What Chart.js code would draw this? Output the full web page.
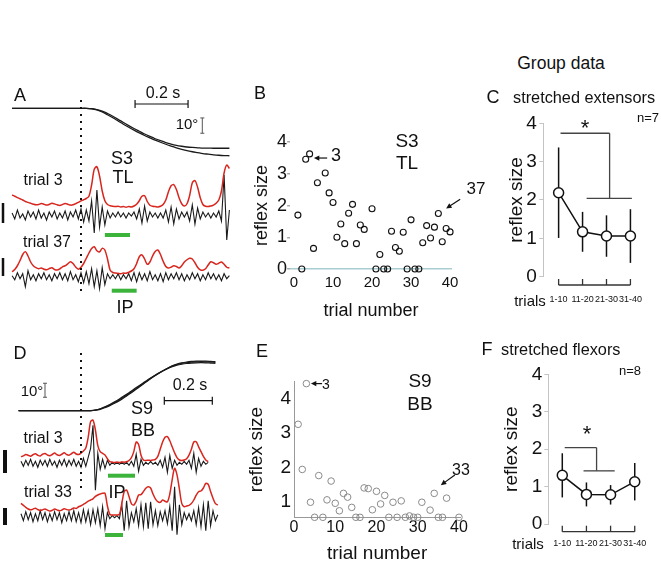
<!DOCTYPE html>
<html>
<head>
<meta charset="utf-8">
<script src="https://cdn.jsdelivr.net/npm/chart.js@4.4.1/dist/chart.umd.min.js"></script>
<style>
  body { margin: 0; background: #fff; }
  #fig { position: relative; width: 661px; height: 563px; overflow: hidden; font-family: "Liberation Sans", Arial, sans-serif; color: #111; }
  #fig canvas { position: absolute; }
  .t { position: absolute; transform: translate(-50%, -50%); white-space: nowrap; line-height: 1; }
  .t.l { transform: translate(0, -50%); }
</style>
</head>
<body>
<div id="fig"></div>
<script>
// ---------- data ----------
// B: single subject S3 (TL), reflex size per trial
const trialsB = [1,2,3,4,5,6,8,9,10,11,12,13,14,15,16,17,18,20,21,22,23,24,25,26,27,28,29,30,31,32,33,34,35,36,37,38,39,40];
const reflexB = [1.7,0,3.46,3.63,0.65,2.72,3.03,2.4,2.1,1.0,1.42,0.8,1.76,2.04,0.8,1.39,1.25,1.9,0,0.46,0,0,1.19,0.68,0.56,1.16,0,1.55,0,0,0.83,1.37,0.98,1.32,1.75,0.86,1.28,1.17];

// E: single subject S9 (BB)
const trialsE = [1,2,3,4,5,6,7,8,9,10,11,12,13,14,15,16,17,18,19,20,21,22,23,24,25,26,27,28,29,30,31,33,34,35,36,37,40];
const reflexE = [3.26,1.94,4.45,0.98,0,1.76,0,1.05,1.6,0.95,0.73,1.24,1.13,0.83,0,0,1.4,1.38,0.76,1.3,0.93,1.18,0,0.98,0,1.02,0,0.58,0,0,0.98,0.75,1.24,0,0,1.1,0];

// C / F: group data, mean and SD per block of trials
const groups = ['1-10', '11-20', '21-30', '31-40'];
const meanC = [2.19, 1.17, 1.06, 1.06];
const sdC = [1.18, 0.52, 0.54, 0.70];
const meanF = [1.30, 0.79, 0.78, 1.13];
const sdF = [0.59, 0.32, 0.26, 0.50];

// A: joint angle (deg) sampled every 20 ms from -0.26 s
const angA1 = [0,0,0,0,0,0,0,0,0,0,0,0,0,0,0,-0.2,-0.8,-1.8,-3.4,-5.2,-7.2,-9.3,-11.3,-13.2,-15.0,-16.8,-18.4,-19.9,-21.2,-22.4,-23.4,-24.2,-24.8,-25.3,-25.6,-25.8,-26.0,-26.0,-26.1,-26.1,-26.1,-26.1];
const angA2 = [0,0,0,0,0,0,0,0,0,0,0,0,0,0,0,-0.3,-1.1,-2.4,-4.2,-6.2,-8.3,-10.4,-12.4,-14.3,-16.1,-17.8,-19.3,-20.8,-22.2,-23.5,-24.7,-25.8,-26.8,-27.7,-28.4,-29.0,-29.6,-30.0,-30.4,-30.7,-30.9,-31.0];
// A: EMG, sampled every 10 ms from -0.26 s (red = envelope, black = raw)
const redA3 = [11.3,10.5,9.6,8.8,8.0,7.0,6.4,5.8,5.2,4.8,5.0,5.6,5.2,4.6,5.0,5.8,5.4,4.8,4.4,5.0,5.6,5.2,4.6,4.8,5.6,6.4,7.4,8.2,9.0,10.5,18.0,28.5,30.2,24.0,14.0,7.5,5.0,4.2,3.8,3.6,3.8,3.4,3.6,3.2,3.6,3.4,4.0,5.2,7.5,10.5,10.8,7.0,4.5,3.8,3.6,3.4,3.8,5.0,8.0,13.5,17.5,18.2,15.0,9.5,5.5,4.0,5.5,11.0,19.5,21.0,16.5,9.5,5.0,3.8,3.6,4.0,4.6,5.8,8.0,14.0,26.0,31.3,29.0];
const rawA3 = [2,-4,5,-3,1,-5,4,-2,3,-4,5,-3,2,-5,3,-2,4,-4,2,-3,4,-5,3,-2,5,-4,6,-7,5,-6,14,-18,25,-12,8,-10,4,-3,2,-2,3,-2,2,-3,2,-1,3,-4,6,-8,9,-6,3,-2,2,-3,2,-3,5,-7,8,-9,6,-4,3,-2,3,-6,10,-9,7,-4,3,-2,2,-3,2,-2,4,-6,40,-25,5];
const redA37 = [5.5,7.0,9.5,13.0,17.0,18.9,16.0,12.0,9.5,8.2,7.5,8.0,7.2,6.8,7.6,8.2,7.0,6.6,7.4,8.8,9.5,10.8,12.2,11.0,8.6,7.2,8.5,11.0,14.5,18.0,21.0,22.2,19.5,18.8,21.1,20.0,14.0,6.5,5.0,4.6,4.4,4.2,4.6,4.5,5.2,6.0,7.5,11.0,15.5,16.7,14.0,10.5,12.0,16.0,19.0,20.0,17.0,12.5,9.0,8.0,8.6,9.5,9.0,8.0,9.5,12.0,13.5,14.5,14.0,11.5,8.5,6.8,6.5,7.5,10.0,12.2,11.5,10.5,11.2,12.0,10.5,8.5,8.0];
const rawA37 = [1,-3,4,-2,3,-10,6,-3,2,-4,3,-2,4,-3,2,-4,3,-2,4,-3,3,-4,5,-3,2,-5,4,-6,5,-7,8,-10,6,-12,9,-8,3,-2,2,-2,3,-3,2,-2,3,-4,4,-5,4,-3,3,-4,5,-3,2,-4,3,-5,4,-3,3,-2,4,-3,3,-4,2,-3,4,-2,3,-4,2,-3,4,-2,3,-3,2,-4,3,-2,1];

// D: joint angle (deg), three superimposed trials, every 20 ms from -0.26 s
const angD1 = [0,0,0,0,0,0,0,0,0,0,0,0,0,0,0,0,0.4,1.2,2.5,4.0,5.8,7.8,10.0,12.3,14.7,17.1,19.5,21.9,24.2,26.4,28.4,30.2,31.8,33.0,33.8,34.3,34.7,34.9,35.0,34.9,34.7,34.5];
const angD2 = [0,0,0,0,0,0,0,0,0,0,0,0,0,0,0,0,0.3,1.0,2.2,3.6,5.3,7.2,9.4,11.7,14.1,16.6,19.1,21.6,24.0,26.3,28.4,30.3,32.0,33.3,34.2,34.8,35.2,35.4,35.5,35.4,35.2,35.0];
const angD3 = [0,0,0,0,0,0,0,0,0,0,0,0,0,0,0,0,0.5,1.4,2.8,4.4,6.3,8.4,10.6,12.9,15.3,17.6,19.9,22.2,24.4,26.5,28.4,30.0,31.4,32.5,33.2,33.7,34.0,34.2,34.3,34.2,34.0,33.8];
// D: EMG, every 10 ms from -0.25 s
const redD3 = [7.8,8.4,9.6,9.0,8.2,9.4,10.2,9.0,8.4,9.8,10.5,9.2,8.6,9.6,10.8,9.4,8.8,9.8,11.0,9.6,9.0,10.2,11.5,10.0,9.6,10.8,12.5,15.0,24.0,37.0,38.3,30.0,17.0,11.9,10.5,9.2,6.0,3.6,3.2,3.0,3.2,3.0,3.4,3.2,3.6,4.6,7.0,12.0,20.0,18.0,9.0,5.0,4.6,4.8,4.6,5.0,5.6,8.0,14.0,20.0,24.0,24.4,21.0,16.0,11.0,7.0,5.0,4.6,5.0,6.0,9.0,14.0,20.0,20.2,16.0,12.0,8.0,5.0,3.6];
const rawD3 = [2,-3,3,-2,4,-3,2,-4,3,-2,3,-3,4,-2,2,-4,3,-2,4,-3,3,-2,4,-3,2,-4,5,-3,6,15,38,-27,10,-6,4,-5,3,-2,1,-1,1,-1,1,-1,1,-2,2,-3,9,-8,4,-2,1,-1,2,-1,1,-2,3,-4,6,-9,8,-5,3,-2,1,-1,2,-1,3,-5,10,-9,5,-3,2,-1,1];
const redD33 = [12.2,10.5,8.8,7.5,6.8,7.4,8.2,7.0,6.2,6.8,7.6,6.6,5.8,6.4,7.4,6.8,6.0,6.6,7.8,7.0,6.6,7.2,8.4,8.0,9.4,10.2,11.4,12.6,14.0,15.0,16.0,18.0,19.2,20.0,20.6,20.6,10.0,3.0,2.5,2.6,2.5,3.0,12.0,22.0,23.3,18.0,12.0,10.8,14.0,19.2,19.5,22.0,24.8,26.0,25.0,20.0,16.0,13.6,13.0,15.0,14.0,13.5,20.0,32.0,41.4,36.0,24.0,12.0,9.4,10.0,10.5,12.0,15.0,19.0,21.9,22.5,25.0,28.9,28.0,22.0,16.4,12.0,10.8];
const rawD33 = [3,-4,5,-3,4,-5,3,-4,6,-3,4,-5,3,-4,5,-3,4,-6,3,-4,5,-4,6,-5,4,-6,7,-5,6,-8,7,-6,8,-9,10,-12,4,-2,1,-1,1,-2,12,-14,16,-10,4,-5,8,-9,12,-10,14,-12,15,-8,6,-9,5,-4,6,-7,10,-14,30,-18,12,-8,4,-3,3,-4,6,-8,9,-10,12,-14,16,-9,6,-4,2];

// ---------- helpers ----------
Chart.defaults.font.family = '"Liberation Sans", Arial, sans-serif';
Chart.defaults.color = '#111';
const fig = document.getElementById('fig');
const base = { responsive: false, animation: false, events: [], plugins: { legend: { display: false }, tooltip: { enabled: false } } };

function makeCanvas(l, t, w, h) {
  const c = document.createElement('canvas');
  c.width = w; c.height = h;
  Object.assign(c.style, { left: l + 'px', top: t + 'px', width: w + 'px', height: h + 'px' });
  fig.appendChild(c);
  return c;
}
function seg(ctx, x1, y1, x2, y2) { ctx.beginPath(); ctx.moveTo(x1, y1); ctx.lineTo(x2, y2); ctx.stroke(); }

// ---------- A and D: stretch traces ----------
function traceDecor(p) {
  return {
    id: 'traceDecor',
    afterDatasetsDraw(chart) {
      const { ctx, scales } = chart, x = scales.x, oy = p.top;
      ctx.save();
      ctx.strokeStyle = '#111';
      ctx.lineWidth = 2; ctx.setLineDash([2, 5]);
      const xo = x.getPixelForValue(0);
      seg(ctx, xo, p.onset[0] - oy, xo, p.onset[1] - oy);
      ctx.setLineDash([]);
      // 0.2 s bar
      ctx.lineWidth = 1.2;
      const b = p.timeBar, x1 = x.getPixelForValue(b[0]), x2 = x.getPixelForValue(b[1]), yb = b[2] - oy;
      seg(ctx, x1, yb, x2, yb); seg(ctx, x1, yb - 4, x1, yb + 4); seg(ctx, x2, yb - 4, x2, yb + 4);
      // 10 deg bar
      const d = p.degBar, ya = scales.y0, d1 = ya.getPixelForValue(d[1]), d2 = ya.getPixelForValue(d[2]);
      ctx.strokeStyle = '#555'; ctx.lineWidth = 1;
      seg(ctx, d[0], d1, d[0], d2); seg(ctx, d[0] - 2, d1, d[0] + 2, d1); seg(ctx, d[0] - 2, d2, d[0] + 2, d2);
      // EMG calibration bars
      ctx.strokeStyle = '#111'; ctx.lineWidth = p.emgBarW;
      p.emgBars.forEach(e => {
        const s = scales['y' + e[0]];
        seg(ctx, e[1], s.getPixelForValue(e[2]), e[1], s.getPixelForValue(e[3]));
      });
      // IP windows
      ctx.strokeStyle = '#3cb43c'; ctx.lineWidth = 4;
      p.ip.forEach(g => seg(ctx, x.getPixelForValue(g[0]), g[2] - oy, x.getPixelForValue(g[1]), g[2] - oy));
      ctx.restore();
    }
  };
}

function traceChart(p) {
  const c = makeCanvas(p.left, p.top, p.w, p.h);
  const scales = { x: { type: 'linear', display: false, min: p.xmin, max: p.xmax } };
  const datasets = p.traces.map((tr, i) => {
    const id = 'y' + i, z = tr.zero - p.top;
    scales[id] = { type: 'linear', display: false, min: -(p.h - z) / tr.k, max: z / tr.k };
    return {
      data: tr.vals.map((v, j) => ({ x: tr.t0 + j * tr.dt, y: v })),
      yAxisID: id, borderColor: tr.color, borderWidth: tr.width,
      pointRadius: 0, tension: tr.tension || 0, fill: false, order: tr.order || 0
    };
  });
  new Chart(c, {
    type: 'line',
    data: { datasets },
    options: { ...base, layout: { padding: { left: p.padL, right: p.padR, top: 0, bottom: 0 } }, scales },
    plugins: [traceDecor(p)]
  });
}

const RED = '#d7261e', BLK = '#1a1a1a';
traceChart({
  left: 0, top: 88, w: 240, h: 230, padL: 10, padR: 7, xmin: (10 - 81) / 265, xmax: (233 - 81) / 265,
  traces: [
    { vals: angA1, t0: -0.26, dt: 0.02, zero: 108.3, k: 1.53, color: BLK, width: 1.3, tension: 0.3 },
    { vals: angA2, t0: -0.26, dt: 0.02, zero: 108.3, k: 1.53, color: BLK, width: 1.3, tension: 0.3 },
    { vals: redA3, t0: -0.26, dt: 0.01, zero: 212, k: 1.5, color: RED, width: 1.5, tension: 0.3 },
    { vals: rawA3, t0: -0.26, dt: 0.01, zero: 215, k: 1, color: BLK, width: 1.1, order: 1 },
    { vals: redA37, t0: -0.26, dt: 0.01, zero: 280, k: 1.5, color: RED, width: 1.5, tension: 0.3 },
    { vals: rawA37, t0: -0.26, dt: 0.01, zero: 276.7, k: 1, color: BLK, width: 1.1, order: 1 }
  ],
  onset: [100, 292],
  timeBar: [0.204, 0.404, 104],
  degBar: [202.3, -6.3, -16.3],
  emgBarW: 2.5, emgBars: [[3, 3, 12, -8], [5, 3, 18.7, 0.7]],
  ip: [[0.09, 0.185, 235], [0.116, 0.21, 290.7]]
});

traceChart({
  left: 0, top: 340, w: 240, h: 223, padL: 18, padR: 20, xmin: (18 - 81) / 240, xmax: (220 - 81) / 240,
  traces: [
    { vals: angD1, t0: -0.26, dt: 0.02, zero: 410.7, k: 1.4, color: BLK, width: 1.2, tension: 0.3 },
    { vals: angD2, t0: -0.26, dt: 0.02, zero: 410.7, k: 1.4, color: BLK, width: 1.2, tension: 0.3 },
    { vals: angD3, t0: -0.26, dt: 0.02, zero: 410.7, k: 1.4, color: BLK, width: 1.2, tension: 0.3 },
    { vals: redD3, t0: -0.25, dt: 0.01, zero: 466, k: 1.2, color: RED, width: 1.5, tension: 0.3 },
    { vals: rawD3, t0: -0.25, dt: 0.01, zero: 463.3, k: 1, color: BLK, width: 1.1, order: 1 },
    { vals: redD33, t0: -0.25, dt: 0.01, zero: 518, k: 1.2, color: RED, width: 1.5, tension: 0.3 },
    { vals: rawD33, t0: -0.25, dt: 0.01, zero: 516.7, k: 1, color: BLK, width: 1.1, order: 1 }
  ],
  onset: [353, 493],
  timeBar: [(164.3 - 81) / 240, (212.3 - 81) / 240, 400.7],
  degBar: [45, 19.6, 9.6],
  emgBarW: 4, emgBars: [[4, 5, 13.3, -9.7], [6, 5, 8.7, -8.3]],
  ip: [[0.1125, 0.225, 475.7], [0.1, 0.175, 535]]
});

// ---------- B and E: reflex size per trial ----------
function arrows(list) {
  return {
    id: 'arrows',
    afterDatasetsDraw(chart) {
      const { ctx, scales: { x, y } } = chart;
      ctx.save(); ctx.strokeStyle = '#111'; ctx.fillStyle = '#111'; ctx.lineWidth = 1.2;
      list.forEach(a => {
        const x1 = x.getPixelForValue(a[0]), y1 = y.getPixelForValue(a[1]);
        const x2 = x.getPixelForValue(a[2]), y2 = y.getPixelForValue(a[3]);
        const ang = Math.atan2(y2 - y1, x2 - x1), h = 6;
        seg(ctx, x1, y1, x2 - Math.cos(ang) * 3, y2 - Math.sin(ang) * 3);
        ctx.beginPath(); ctx.moveTo(x2, y2);
        ctx.lineTo(x2 - h * Math.cos(ang - 0.45), y2 - h * Math.sin(ang - 0.45));
        ctx.lineTo(x2 - h * Math.cos(ang + 0.45), y2 - h * Math.sin(ang + 0.45));
        ctx.closePath(); ctx.fill();
      });
      ctx.restore();
    }
  };
}

// B
(function () {
  const L = 240, T = 100, W = 240, H = 230;
  const area = { l: 290.1, r: 452, t: 139, b: 272.2 };
  new Chart(makeCanvas(L, T, W, H), {
    type: 'scatter',
    data: { datasets: [{
      data: trialsB.map((t, i) => ({ x: t, y: reflexB[i] })),
      pointRadius: 3, pointBorderWidth: 1.1, pointBorderColor: '#111', pointBackgroundColor: 'rgba(0,0,0,0)', clip: false
    }] },
    options: {
      ...base,
      layout: { padding: { left: 0, top: area.t - T, right: L + W - area.r, bottom: 0 } },
      scales: {
        x: {
          type: 'linear', min: -1, max: 40.5,
          afterFit: s => { s.height = T + H - area.b; },
          grid: { display: false, drawTicks: false }, border: { display: false },
          ticks: { stepSize: 10, includeBounds: false, font: { size: 15 }, padding: 2, maxRotation: 0 },
          title: { display: true, text: 'trial number', font: { size: 18 }, padding: { top: 0, bottom: T + H - 311 - 10.8 } }
        },
        y: {
          min: -0.1, max: 4.1,
          afterFit: s => { s.width = area.l - L; },
          border: { display: false },
          grid: { color: c => c.tick && c.tick.value === 0 ? '#a9cdd1' : 'rgba(0,0,0,0)', lineWidth: 1.5, tickLength: 3, tickColor: '#aaa' },
          ticks: { stepSize: 1, includeBounds: false, font: { size: 18 }, padding: 0 },
          title: { display: true, text: 'reflex size', font: { size: 18 }, padding: { top: 262 - L - 10.8, bottom: 0 } }
        }
      }
    },
    plugins: [arrows([[8.5, 3.5, 5.1, 3.5], [42.6, 2.2, 39, 1.91]])]
  });
})();

// E
(function () {
  const L = 240, T = 360, W = 240, H = 210;
  const yMin = 0.54;
  const area = { l: 294, r: 460.2, t: 381.9, b: 517.3 };
  new Chart(makeCanvas(L, T, W, H), {
    type: 'scatter',
    data: { datasets: [{
      data: trialsE.map((t, i) => ({ x: t, y: reflexE[i] === 0 ? yMin : reflexE[i] })),
      pointRadius: 3.3, pointBorderWidth: 1, pointBorderColor: '#8a8a8a', pointBackgroundColor: 'rgba(0,0,0,0)', clip: false
    }] },
    options: {
      ...base,
      layout: { padding: { left: 0, top: area.t - T, right: L + W - area.r, bottom: 0 } },
      scales: {
        x: {
          type: 'linear', min: 0, max: 40.3,
          afterFit: s => { s.height = T + H - area.b; },
          grid: { display: false, drawTicks: false }, border: { color: '#999', width: 1 },
          ticks: { stepSize: 10, includeBounds: false, font: { size: 16 }, padding: 1, maxRotation: 0 },
          title: { display: true, text: 'trial number', font: { size: 19 }, padding: { top: 0, bottom: T + H - 553.3 - 11.4 } }
        },
        y: {
          min: yMin, max: 4.5,
          afterFit: s => { s.width = area.l - L; },
          afterBuildTicks: s => { s.ticks = [1, 2, 3, 4].map(v => ({ value: v })); },
          border: { color: '#999', width: 1 },
          grid: { drawOnChartArea: false, drawTicks: false },
          ticks: { font: { size: 19 }, padding: 3 },
          title: { display: true, text: 'reflex size', font: { size: 19 }, padding: { top: 257 - L - 11.4, bottom: 0 } }
        }
      }
    },
    plugins: [arrows([[6.8, 4.45, 4.1, 4.45], [39, 1.78, 35.6, 1.48]])]
  });
})();

// ---------- C and F: group means ± SD ----------
function groupDecor(g) {
  return {
    id: 'groupDecor',
    beforeDatasetsDraw(chart) {
      const { ctx, scales: { x, y } } = chart;
      ctx.save(); ctx.strokeStyle = '#111'; ctx.lineWidth = 1.5;
      g.means.forEach((m, i) => {
        const px = x.getPixelForValue(i + 1);
        seg(ctx, px, y.getPixelForValue(m + g.sds[i]), px, y.getPixelForValue(m - g.sds[i]));
      });
      // block axis
      const yb = g.axisY - g.top, xa = x.getPixelForValue(1), xb = x.getPixelForValue(groups.length);
      ctx.strokeStyle = '#333'; ctx.lineWidth = 1.3;
      seg(ctx, xa, yb, xb, yb);
      groups.forEach((_, i) => { const px = x.getPixelForValue(i + 1); seg(ctx, px, yb, px, yb - 6); });
      // significance bracket
      ctx.strokeStyle = '#444';
      g.sig.forEach(s => seg(ctx, x.getPixelForValue(s[0]), y.getPixelForValue(s[1]), x.getPixelForValue(s[2]), y.getPixelForValue(s[3])));
      ctx.restore();
    }
  };
}

function groupChart(g) {
  const a = g.area;
  new Chart(makeCanvas(g.left, g.top, g.w, g.h), {
    type: 'line',
    data: { datasets: [{
      data: g.means.map((m, i) => ({ x: i + 1, y: m })),
      borderColor: '#111', borderWidth: 1.5, pointRadius: 5, pointBorderWidth: 1.5,
      pointBorderColor: '#111', pointBackgroundColor: '#fff', clip: false
    }] },
    options: {
      ...base,
      layout: { padding: { left: 0, top: a.t - g.top, right: g.left + g.w - a.r, bottom: 0 } },
      scales: {
        x: {
          type: 'linear', min: g.xmin, max: g.xmax,
          afterFit: s => { s.height = g.top + g.h - a.b; },
          afterBuildTicks: s => { s.ticks = groups.map((_, i) => ({ value: i + 1 })); },
          grid: { display: false, drawTicks: false }, border: { display: false },
          ticks: { callback: v => groups[v - 1], font: { size: 9 }, padding: g.labelY - 5.4 - a.b, maxRotation: 0, autoSkip: false }
        },
        y: {
          min: 0, max: 4,
          afterFit: s => { s.width = a.l - g.left; },
          border: { color: '#c4c4c4', width: 1 },
          grid: { drawOnChartArea: false, tickLength: 4, tickColor: '#c4c4c4' },
          ticks: { stepSize: 1, font: { size: 19 }, padding: g.tickPad },
          title: { display: true, text: 'reflex size', font: { size: 19 }, padding: { top: g.titleX - g.left - 11.4, bottom: 0 } }
        }
      }
    },
    plugins: [groupDecor(g)]
  });
}

groupChart({
  left: 480, top: 90, w: 181, h: 230,
  area: { l: 543.3, r: 651.4, t: 123.3, b: 276.7 },
  xmin: 1 - 16.7 / 26.1, xmax: 4.5,
  means: meanC, sds: sdC, axisY: 285, labelY: 300, tickPad: 2.6, titleX: 516.7,
  sig: [[1.08, 3.74, 3.13, 3.74], [3.13, 3.74, 3.13, 2.04], [2.17, 2.04, 4.06, 2.04]]
});
groupChart({
  left: 480, top: 340, w: 181, h: 223,
  area: { l: 548.3, r: 654, t: 374.3, b: 524 },
  xmin: 1 - 15 / 25.9, xmax: 4.5,
  means: meanF, sds: sdF, axisY: 531.7, labelY: 543.3, tickPad: 2, titleX: 512,
  sig: [[1.1, 2.04, 2.42, 2.04], [2.42, 2.04, 2.42, 1.42], [1.88, 1.42, 3.17, 1.42]]
});

// ---------- text ----------
const notes = [
  ['A', 20, 95, 18], ['0.2 s', 163, 93, 16], ['10°', 187, 123, 15], ['S3', 122, 158, 18], ['TL', 123, 177, 18],
  ['trial 3', 43, 180, 16], ['trial 37', 47, 242, 16], ['IP', 125, 307, 18],
  ['D', 20, 353, 18], ['10°', 32, 390, 15], ['0.2 s', 190, 385, 16], ['S9', 142, 408, 18], ['BB', 143, 430, 18],
  ['trial 3', 43, 438, 16], ['trial 33', 48, 492, 16], ['IP', 117, 492, 18],
  ['B', 260, 93, 18], ['S3', 407, 140, 19], ['TL', 407, 162, 19], ['3', 336, 155, 18], ['37', 476, 188, 17],
  ['E', 262, 351, 18], ['S9', 420, 380, 19], ['BB', 420, 403, 19], ['3', 326, 384, 14], ['33', 461, 470, 16],
  ['Group data', 561, 64, 17.5], ['C', 493, 97, 18], ['stretched extensors', 513, 97, 16.3, 'l'],
  ['n=7', 648, 117, 13], ['*', 585, 128, 22], ['trials', 530, 300, 15],
  ['F', 487, 349, 18], ['stretched flexors', 501, 349, 16.3, 'l'],
  ['n=8', 630, 370, 13], ['*', 587, 434, 22], ['trials', 528, 543, 15]
];
notes.forEach(n => {
  const d = document.createElement('div');
  d.className = 't' + (n[4] === 'l' ? ' l' : '');
  d.textContent = n[0];
  Object.assign(d.style, { left: n[1] + 'px', top: n[2] + 'px', fontSize: n[3] + 'px' });
  fig.appendChild(d);
});
</script>
</body>
</html>
